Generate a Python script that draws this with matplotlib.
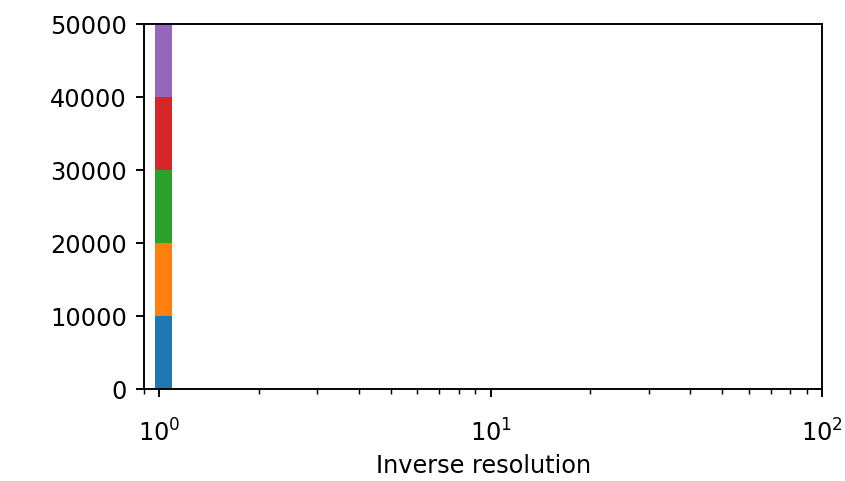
import numpy as np
import matplotlib
matplotlib.use("Agg")
import matplotlib.pyplot as plt

# five stacked series, all samples sit at inverse resolution 1
series_values = [[1.0], [1.0], [1.0], [1.0], [1.0]]
series_counts = [[10000], [10000], [10000], [10000], [10000]]
colors = ["#1f77b4", "#ff7f0e", "#2ca02c", "#d62728", "#9467bd"]

# small notebook figure blown up, so use a high dpi with default styling
fig = plt.figure(figsize=(846 / 173, 481 / 173), dpi=173)
ax = fig.add_axes([0.170, 0.191, 0.802, 0.759])

bins = np.logspace(np.log10(0.975), 2, 41)
ax.hist(series_values, bins=bins, weights=series_counts, stacked=True,
        color=colors, histtype="bar")

ax.set_xscale("log")
ax.set_xlim(0.9, 100)
ax.set_ylim(0, 50000)
ax.set_yticks([0, 10000, 20000, 30000, 40000, 50000])
ax.tick_params(axis="x", which="major", pad=9)
ax.set_xlabel("Inverse resolution", labelpad=3)

fig.savefig("out.png", dpi=173)
